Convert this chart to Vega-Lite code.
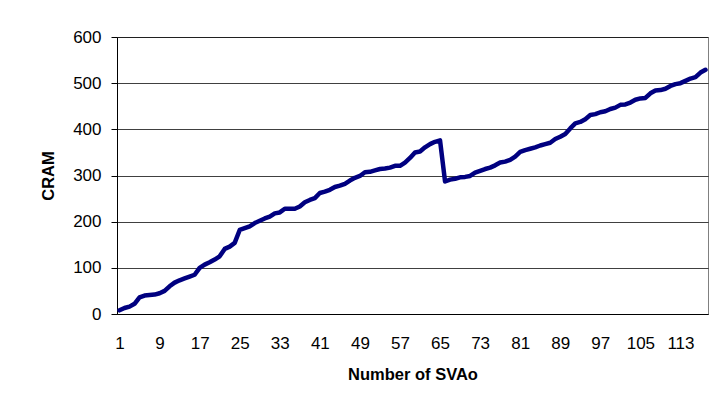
{
  "$schema": "https://vega.github.io/schema/vega-lite/v6.json",
  "autosize": "none",
  "width": 591,
  "height": 277,
  "padding": {"left": 117, "top": 37, "right": 7, "bottom": 90},
  "background": "white",
  "config": {
    "view": {"stroke": "#808080", "strokeWidth": 1, "fill": "white"},
    "font": "Liberation Sans"
  },
  "data": {
    "values": [
      {"n": 1, "cram": 8}, {"n": 2, "cram": 13}, {"n": 3, "cram": 16}, {"n": 4, "cram": 22},
      {"n": 5, "cram": 36}, {"n": 6, "cram": 40}, {"n": 7, "cram": 41}, {"n": 8, "cram": 42},
      {"n": 9, "cram": 45}, {"n": 10, "cram": 50}, {"n": 11, "cram": 60}, {"n": 12, "cram": 68},
      {"n": 13, "cram": 73}, {"n": 14, "cram": 77}, {"n": 15, "cram": 81}, {"n": 16, "cram": 85},
      {"n": 17, "cram": 100}, {"n": 18, "cram": 107}, {"n": 19, "cram": 112}, {"n": 20, "cram": 118},
      {"n": 21, "cram": 125}, {"n": 22, "cram": 141}, {"n": 23, "cram": 146}, {"n": 24, "cram": 154},
      {"n": 25, "cram": 182}, {"n": 26, "cram": 186}, {"n": 27, "cram": 190}, {"n": 28, "cram": 197},
      {"n": 29, "cram": 202}, {"n": 30, "cram": 207}, {"n": 31, "cram": 211}, {"n": 32, "cram": 218},
      {"n": 33, "cram": 220}, {"n": 34, "cram": 228}, {"n": 35, "cram": 228}, {"n": 36, "cram": 228},
      {"n": 37, "cram": 233}, {"n": 38, "cram": 242}, {"n": 39, "cram": 247}, {"n": 40, "cram": 251},
      {"n": 41, "cram": 262}, {"n": 42, "cram": 265}, {"n": 43, "cram": 269}, {"n": 44, "cram": 275},
      {"n": 45, "cram": 278}, {"n": 46, "cram": 282}, {"n": 47, "cram": 289}, {"n": 48, "cram": 295},
      {"n": 49, "cram": 299}, {"n": 50, "cram": 307}, {"n": 51, "cram": 308}, {"n": 52, "cram": 311},
      {"n": 53, "cram": 314}, {"n": 54, "cram": 315}, {"n": 55, "cram": 317}, {"n": 56, "cram": 321},
      {"n": 57, "cram": 321}, {"n": 58, "cram": 328}, {"n": 59, "cram": 338}, {"n": 60, "cram": 350},
      {"n": 61, "cram": 352}, {"n": 62, "cram": 361}, {"n": 63, "cram": 368}, {"n": 64, "cram": 373},
      {"n": 65, "cram": 376}, {"n": 66, "cram": 287}, {"n": 67, "cram": 291}, {"n": 68, "cram": 293},
      {"n": 69, "cram": 296}, {"n": 70, "cram": 297}, {"n": 71, "cram": 299}, {"n": 72, "cram": 306},
      {"n": 73, "cram": 310}, {"n": 74, "cram": 314}, {"n": 75, "cram": 317}, {"n": 76, "cram": 322},
      {"n": 77, "cram": 328}, {"n": 78, "cram": 330}, {"n": 79, "cram": 334}, {"n": 80, "cram": 341},
      {"n": 81, "cram": 351}, {"n": 82, "cram": 355}, {"n": 83, "cram": 358}, {"n": 84, "cram": 361},
      {"n": 85, "cram": 365}, {"n": 86, "cram": 368}, {"n": 87, "cram": 371}, {"n": 88, "cram": 379},
      {"n": 89, "cram": 384}, {"n": 90, "cram": 390}, {"n": 91, "cram": 402}, {"n": 92, "cram": 413},
      {"n": 93, "cram": 416}, {"n": 94, "cram": 422}, {"n": 95, "cram": 431}, {"n": 96, "cram": 433},
      {"n": 97, "cram": 437}, {"n": 98, "cram": 439}, {"n": 99, "cram": 444}, {"n": 100, "cram": 447},
      {"n": 101, "cram": 453}, {"n": 102, "cram": 454}, {"n": 103, "cram": 458}, {"n": 104, "cram": 464},
      {"n": 105, "cram": 467}, {"n": 106, "cram": 468}, {"n": 107, "cram": 478}, {"n": 108, "cram": 484},
      {"n": 109, "cram": 485}, {"n": 110, "cram": 488}, {"n": 111, "cram": 494}, {"n": 112, "cram": 498},
      {"n": 113, "cram": 500}, {"n": 114, "cram": 505}, {"n": 115, "cram": 510}, {"n": 116, "cram": 513},
      {"n": 117, "cram": 523}, {"n": 118, "cram": 529}
    ]
  },
  "mark": {"type": "line", "color": "#000080", "strokeWidth": 4.5, "strokeJoin": "round", "strokeCap": "round"},
  "encoding": {
    "x": {
      "field": "n",
      "type": "quantitative",
      "scale": {"domain": [0.5, 118.5], "nice": false, "zero": false},
      "axis": {
        "title": "Number of SVAo",
        "values": [1, 9, 17, 25, 33, 41, 49, 57, 65, 73, 81, 89, 97, 105, 113],
        "grid": false,
        "ticks": false,
        "tickSize": 0,
        "domainColor": "black",
        "domainWidth": 1,
        "labelFontSize": 17,
        "labelColor": "black",
        "labelBaseline": "alphabetic",
        "labelPadding": 34,
        "labelFlush": false,
        "labelOverlap": false,
        "titleFontSize": 16.5,
        "titleFontWeight": "bold",
        "titleColor": "black",
        "titlePadding": 15
      }
    },
    "y": {
      "field": "cram",
      "type": "quantitative",
      "scale": {"domain": [0, 600], "nice": false},
      "axis": {
        "title": "CRAM",
        "values": [0, 100, 200, 300, 400, 500, 600],
        "grid": true,
        "gridColor": "black",
        "gridWidth": 1,
        "gridOpacity": 0.75,
        "domainColor": "black",
        "tickColor": "black",
        "tickSize": 6,
        "labelFontSize": 17,
        "labelColor": "black",
        "labelPadding": 10,
        "labelFlush": false,
        "titleFontSize": 16.5,
        "titleFontWeight": "bold",
        "titleColor": "black",
        "titlePadding": 16
      }
    }
  }
}
